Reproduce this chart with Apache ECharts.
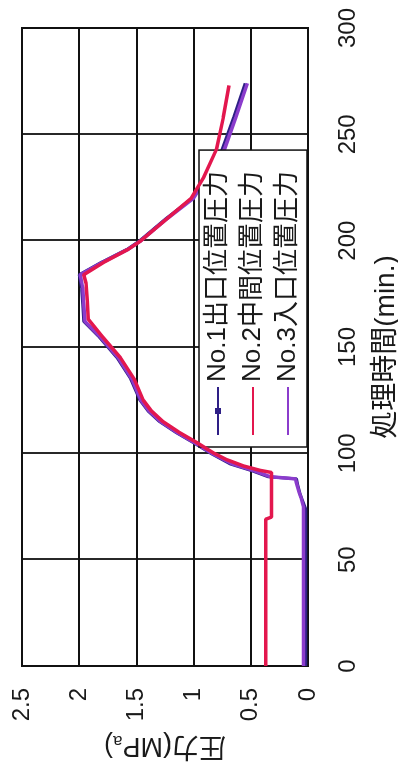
<!DOCTYPE html>
<html>
<head>
<meta charset="utf-8">
<script src="https://cdn.jsdelivr.net/npm/echarts@6/dist/echarts.min.js"></script>
<style>
  html, body { margin: 0; padding: 0; background: #fff; overflow: hidden; }
  body { width: 398px; height: 769px; position: relative; }
  /* The chart is laid out landscape and turned a quarter turn counter-clockwise */
  #chart {
    position: absolute; left: 0; top: 769px;
    width: 769px; height: 398px;
    transform-origin: 0 0; transform: rotate(-90deg);
    background: #fff;
  }
</style>
</head>
<body>
<div id="chart"></div>
<script>
// Processing time (min.) and pressure (MPa) at three positions
const timeNo1 = [0, 74, 78, 81, 85, 88, 89, 92, 95, 100, 105, 110, 115, 120, 125, 135, 145, 155, 162, 170, 178, 184, 190, 196, 200, 210, 220, 230, 243, 258, 274];
const presNo1 = [0.02, 0.02, 0.05, 0.07, 0.09, 0.10, 0.35, 0.50, 0.68, 0.85, 1.00, 1.16, 1.30, 1.40, 1.47, 1.55, 1.67, 1.83, 1.96, 1.97, 1.98, 2.00, 1.80, 1.58, 1.47, 1.25, 1.01, 0.89, 0.75, 0.65, 0.55];

const timeNo2 = [0, 69, 70, 91, 92, 94, 97, 100, 105, 110, 115, 120, 125, 135, 145, 155, 163, 172, 180, 184, 190, 196, 200, 210, 220, 230, 243, 258, 273];
const presNo2 = [0.37, 0.37, 0.32, 0.32, 0.42, 0.56, 0.71, 0.82, 0.97, 1.13, 1.27, 1.37, 1.44, 1.52, 1.64, 1.80, 1.92, 1.93, 1.94, 1.96, 1.78, 1.57, 1.46, 1.24, 1.02, 0.91, 0.80, 0.74, 0.69];

const timeNo3 = [0, 75, 79, 82, 86, 88, 89, 92, 95, 100, 105, 110, 115, 120, 125, 135, 145, 155, 162, 170, 178, 184, 190, 196, 200, 210, 220, 230, 243, 258, 274];
const presNo3 = [0.04, 0.04, 0.06, 0.08, 0.10, 0.11, 0.33, 0.48, 0.66, 0.84, 0.99, 1.15, 1.29, 1.39, 1.46, 1.54, 1.66, 1.82, 1.95, 1.96, 1.97, 1.99, 1.79, 1.57, 1.46, 1.24, 1.00, 0.88, 0.73, 0.63, 0.53];

const seriesNames = ['No.1出口位置圧力', 'No.2中間位置圧力', 'No.3入口位置圧力'];
const seriesColors = ['#2e1f86', '#e3174e', '#8b3ccc'];

const timeTicks = { min: 0, max: 300, step: 50 };
const pressureTicks = { min: 0, max: 2.5, step: 0.5 };

const FONT = "'Liberation Sans', Arial, 'Noto Sans CJK JP', sans-serif";

function pairs(xs, ys) { return xs.map((x, i) => [x, ys[i]]); }

const lineIcon = 'path://M0,3H48V5H0Z';
const dotLineIcon = 'path://M0,3H21V1H27V3H48V5H27V7H21V5H0Z';

const chart = echarts.init(document.getElementById('chart'), null, { renderer: 'canvas' });

chart.setOption({
  animation: false,
  backgroundColor: '#fff',
  textStyle: { fontFamily: FONT, color: '#1a1a1a' },
  grid: {
    left: 103, right: 28, top: 22, bottom: 90,
    outerBoundsMode: 'none',
    containLabel: false,
    show: true, borderColor: '#111', borderWidth: 2, backgroundColor: '#fff'
  },
  xAxis: {
    type: 'value',
    min: timeTicks.min, max: timeTicks.max, interval: timeTicks.step,
    name: '処理時間(min.)',
    nameLocation: 'middle',
    nameGap: 64,
    nameTextStyle: { fontSize: 28, color: '#1a1a1a', fontFamily: FONT },
    axisLine: { show: true, lineStyle: { color: '#111', width: 2 } },
    axisTick: { show: false },
    axisLabel: { fontSize: 24, margin: 28, color: '#1a1a1a', fontFamily: FONT },
    splitLine: { show: true, lineStyle: { color: '#111', width: 1.8 } }
  },
  yAxis: {
    type: 'value',
    min: pressureTicks.min, max: pressureTicks.max, interval: pressureTicks.step,
    name: '圧力(MP{sub|a})',
    nameLocation: 'middle',
    nameRotate: 90,
    nameGap: 66,
    nameTextStyle: {
      fontSize: 27, color: '#1a1a1a', fontFamily: FONT,
      rich: { sub: { fontSize: 17, verticalAlign: 'bottom', padding: [10, 0, 0, 0], fontFamily: FONT, color: '#1a1a1a' } }
    },
    axisLine: { show: true, lineStyle: { color: '#111', width: 2 } },
    axisTick: { show: false },
    axisLabel: { fontSize: 24, margin: 22, color: '#1a1a1a', fontFamily: FONT },
    splitLine: { show: true, lineStyle: { color: '#111', width: 1.8 } }
  },
  legend: {
    orient: 'vertical',
    left: 322, top: 199,
    padding: [6, 21, 6, 12],
    itemGap: 9,
    itemWidth: 48, itemHeight: 8,
    backgroundColor: '#fff',
    borderColor: '#111', borderWidth: 1.5,
    textStyle: { fontSize: 26, lineHeight: 26, color: '#1a1a1a', fontFamily: FONT },
    data: [
      { name: seriesNames[0], icon: dotLineIcon },
      { name: seriesNames[1], icon: lineIcon },
      { name: seriesNames[2], icon: lineIcon }
    ]
  },
  series: [
    {
      name: seriesNames[0], type: 'line', data: pairs(timeNo1, presNo1),
      symbol: 'none', color: seriesColors[0],
      lineStyle: { width: 3, color: seriesColors[0] }, z: 2
    },
    {
      name: seriesNames[2], type: 'line', data: pairs(timeNo3, presNo3),
      symbol: 'none', color: seriesColors[2],
      lineStyle: { width: 3.5, color: seriesColors[2] }, z: 3
    },
    {
      name: seriesNames[1], type: 'line', data: pairs(timeNo2, presNo2),
      symbol: 'none', color: seriesColors[1],
      lineStyle: { width: 3.5, color: seriesColors[1] }, z: 4
    }
  ]
});
</script>
</body>
</html>
